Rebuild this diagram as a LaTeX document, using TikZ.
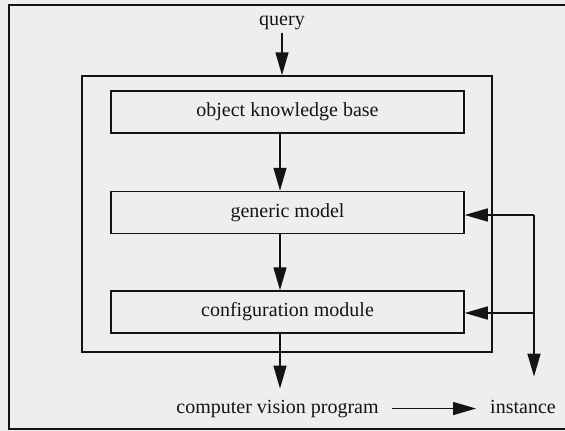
\documentclass[tikz,border=0pt]{standalone}
\usepackage{fontspec}
\setmainfont{Liberation Serif}
\usetikzlibrary{arrows.meta,calc}

\definecolor{paper}{RGB}{238,238,236}
\definecolor{ink}{RGB}{20,20,20}

\tikzset{
  x=1pt, y=-1pt,
  lbl/.style={inner sep=3pt, font=\fontsize{20}{23}\selectfont, text=ink},
  module/.style={draw=ink, line width=1.5pt, minimum width=353pt, minimum height=42pt,
                 inner sep=0pt, font=\fontsize{20}{23}\selectfont, text=ink},
  flow/.style={draw=ink, line width=1.5pt, -{Triangle[length=23pt,width=13pt]}},
  rule/.style={draw=ink, line width=1.5pt},
}

\begin{document}
\begin{tikzpicture}
  % page and paper tone
  \fill[paper] (0,0) rectangle (565,431);
  \useasboundingbox (0,0) rectangle (565,431);

  % outer frame (open to the right edge)
  \draw[rule] (566,5) -- (9,5) -- (9,429) -- (566,429);

  % system box holding the three modules
  \node[rule, minimum width=410pt, minimum height=276pt, inner sep=0pt]
    (sys) at (287,214) {};

  \node[module] (kb)   at (287.5,112)   {object knowledge base};
  \node[module] (gen)  at (287.5,212.5) {generic model};
  \node[module] (conf) at (287.5,312)   {configuration module};

  % free labels
  \node[lbl, anchor=base] (query) at (282,25)  {query};
  \node[lbl, anchor=base] (cvp)   at (277.5,413) {computer vision program};
  \node[lbl, anchor=base] (inst)  at (523,413) {instance};

  % central axis of the vertical flow and the feedback junctions
  \coordinate (spine) at (280,0);
  \coordinate (j1) at (534,215);
  \coordinate (j2) at (534,313);

  % main top-down flow
  \draw[flow] (query.south) -- (query.south |- sys.north);
  \draw[flow] (kb.south -| spine) -- (gen.north -| spine);
  \draw[flow] (gen.south -| spine) -- (conf.north -| spine);
  \draw[flow] (conf.south -| spine) -- ([yshift=8pt]cvp.north -| spine);

  % program produces an instance
  \draw[flow, shorten <=10pt, shorten >=11pt] (cvp.east) -- (cvp.east -| inst.west);

  % feedback from the instance side into the models
  \draw[flow] (j1) -- (j1 -| gen.east);
  \draw[flow] (j2) -- (j2 -| conf.east);
  \draw[flow] (j1) -- ([yshift=20pt]inst.north -| j1);
\end{tikzpicture}
\end{document}
